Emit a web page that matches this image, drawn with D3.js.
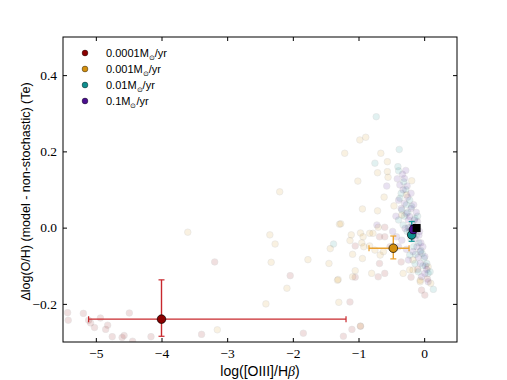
<!DOCTYPE html>
<html>
<head>
<meta charset="utf-8">
<script src="https://cdn.jsdelivr.net/npm/d3@7"></script>
<style>
  body { margin: 0; background: #fff; }
  .tick text { font-family: "Liberation Serif", serif; font-size: 13.5px; fill: #000; }
  .tick line { stroke: #000; }
  .lab { font-family: "Liberation Sans", Arial, sans-serif; fill: #000; }
</style>
</head>
<body>
<div id="app"></div>
<script>
// scatter points per star formation rate, [log([OIII]/Hb), delta log(O/H)]
var sfr0001 = [[-5.43,-0.223],[-5.42,-0.243],[-5.19,-0.225],[-5.11,-0.243],[-5.08,-0.25],[-5.02,-0.262],
  [-4.93,-0.237],[-4.82,-0.256],[-4.85,-0.267],[-4.75,-0.286],[-4.60,-0.288],[-4.57,-0.283],[-4.49,-0.224],
  [-4.44,-0.298],[-4.16,-0.286],[-3.39,-0.28],[-3.19,-0.09],[-2.04,-0.126],[-1.84,-0.277],[-1.23,-0.285],
  [-1.13,-0.195],[-1.10,-0.267],[-0.97,-0.259],[-1.05,-0.048],[-1.05,-0.13],[-0.68,-0.024],[-0.60,-0.024],
  [-0.60,0.001],[-0.68,-0.094],[-0.60,-0.12],[-0.70,-0.129],[0.01,-0.177],[-0.04,-0.164],[-0.20,-0.13],
  [-0.10,-0.11],[0.05,-0.135],[-0.52,-0.05],[-0.35,-0.09]];
var sfr001 = [[-3.15,-0.268],[-3.60,-0.012],[-2.41,-0.2],[-2.09,-0.159],[-1.30,-0.196],[-0.97,-0.258],
  [-2.20,0.094],[-2.35,-0.019],[-2.27,-0.043],[-2.33,-0.091],[-1.77,-0.084],[-1.45,-0.094],[-1.29,0.009],
  [-1.31,-0.136],[-0.98,0.23],[-0.89,0.237],[-1.21,0.195],[-1.01,0.122],[-0.94,0.049],[-1.27,0.01],
  [-1.11,-0.019],[-0.97,-0.014],[-0.93,-0.024],[-1.13,-0.034],[-0.95,-0.04],[-0.92,-0.05],[-1.09,-0.07],
  [-0.94,-0.081],[-1.05,-0.113],[-1.09,-0.129],[-1.32,-0.138],[-0.66,0.195],[-0.56,0.173],[-0.71,0.144],
  [-0.56,0.147],[-0.55,0.132],[-0.19,0.123],[-0.61,0.08],[-0.27,0.086],[-0.46,0.057],[-0.71,0.044],
  [-0.34,0.033],[-0.70,0.001],[-0.83,-0.015],[-0.78,-0.015],[-0.83,-0.048],[-0.75,-0.059],[-0.62,-0.063],
  [-0.67,-0.072],[-0.17,-0.085],[0.06,-0.103],[-0.17,-0.111],[-0.32,-0.12],[-0.80,-0.12],[-0.22,-0.111],
  [-0.06,-0.138],[0.10,-0.146],[-0.06,-0.142],[-1.43,-0.055]];
var sfr01 = [[-1.38,-0.043],[-0.73,0.291],[-0.38,0.205],[-0.75,0.169],[-0.40,0.16],[-0.39,0.149],
  [-0.37,0.077],[-0.22,0.072],[-0.19,0.055],[-0.34,0.046],[-0.39,0.02],[-0.14,0.024],[-0.32,0.007],
  [-0.22,-0.011],[-0.03,-0.068],[-0.22,-0.072],[-0.14,-0.094],[0.04,-0.094],[-0.09,-0.116],[0.09,-0.116],
  [0.14,-0.162],[-0.28,0.10],[-0.25,0.04],[-0.18,0.01],[-0.12,-0.02],[-0.08,-0.04],[-0.20,-0.03],
  [-0.30,0.03],[-0.26,-0.01],[-0.10,0.03],[-0.05,-0.06],[0.00,-0.08],[-0.16,-0.05],[-0.35,0.09],
  [-0.31,0.12],[-0.24,0.0],[-0.13,-0.07],[0.06,-0.12],[-0.02,-0.10],[-0.27,0.06]];
var sfr1 = [[-0.41,0.128],[-0.30,0.129],[-0.37,0.112],[-0.26,0.109],[-0.57,0.109],[-0.32,0.099],
  [-0.39,0.072],[-0.30,0.064],[-0.27,0.037],[-0.22,0.029],[-0.72,0.007],[-0.29,-0.002],[-0.42,-0.024],
  [-0.34,-0.033],[-0.39,-0.05],[-0.27,-0.057],[-0.17,-0.063],[-0.06,-0.063],[0.01,-0.076],[-0.09,-0.078],
  [-0.24,-0.085],[-0.06,-0.094],[0.01,-0.12],[0.06,-0.142],[-0.04,-0.129],[-0.20,0.05],[-0.15,0.02],
  [-0.10,0.0],[-0.12,0.04],[-0.18,-0.01],[-0.08,-0.02],[-0.05,-0.04],[-0.14,-0.03],[-0.22,0.0],
  [-0.25,0.08],[-0.33,0.14],[-0.28,0.15],[-0.20,0.09],[-0.16,0.06],[-0.11,-0.05],[0.02,-0.10],
  [-0.02,-0.05],[-0.24,0.02],[-0.35,0.05],[-0.10,0.015],[-0.07,-0.01],[0.04,-0.11],[-0.43,0.03],[-0.48,-0.01]];

var labels = ['0.0001', '0.001', '0.01', '0.1'];
var colors = ['#8b0000', '#d4900f', '#0f8f8f', '#4b0f8f'];
var errColors = ['#c8282d', '#eaa12e', '#1c9a9a', '#4b0f8f'];
// mean and spread: x, y, xlo, xhi, ylo, yhi
var means = [[-4.0,-0.24,-5.11,-1.19,-0.285,-0.137],
             [-0.47,-0.054,-0.84,-0.23,-0.082,-0.022],
             [-0.19,-0.019,-0.23,-0.15,-0.036,0.016],
             [-0.165,-0.005,-0.19,-0.14,-0.015,0.006]];
var refPoint = [-0.115, -0.001];

var xTicks = [-5, -4, -3, -2, -1, 0];
var yTicks = [-0.2, 0.0, 0.2, 0.4];

var W = 507, H = 380,
    pL = 63, pR = 457, pT = 37, pB = 342;

var svg = d3.select('#app').append('svg')
            .attr('width', W)
            .attr('height', H);

var x = d3.scaleLinear().domain([-5.5, 0.5]).range([pL, pR]);
var y = d3.scaleLinear().domain([-0.3, 0.5]).range([pB, pT]);

svg.append('clipPath').attr('id', 'clip')
   .append('rect').attr('x', pL).attr('y', pT)
   .attr('width', pR-pL).attr('height', pB-pT);

var plot = svg.append('g').attr('clip-path', 'url(#clip)');

[sfr0001, sfr001, sfr01, sfr1].forEach(function(pts, i){
  plot.append('g').selectAll('circle').data(pts).enter().append('circle')
      .attr('cx', function(d){ return x(d[0]); })
      .attr('cy', function(d){ return y(d[1]); })
      .attr('r', 3.3)
      .style('fill', colors[i])
      .style('stroke', '#000')
      .style('stroke-width', 0.5)
      .style('opacity', 0.12);
});

means.forEach(function(m, i){
  var g = plot.append('g');
  g.append('line').attr('x1', x(m[2])).attr('x2', x(m[3])).attr('y1', y(m[1])).attr('y2', y(m[1]))
   .style('stroke', errColors[i]).style('stroke-width', 1.4);
  g.append('line').attr('x1', x(m[0])).attr('x2', x(m[0])).attr('y1', y(m[4])).attr('y2', y(m[5]))
   .style('stroke', errColors[i]).style('stroke-width', 1.4);
  [m[2], m[3]].forEach(function(v){
    g.append('line').attr('x1', x(v)).attr('x2', x(v)).attr('y1', y(m[1])-3).attr('y2', y(m[1])+3)
     .style('stroke', errColors[i]).style('stroke-width', 1.2);
  });
  [m[4], m[5]].forEach(function(v){
    g.append('line').attr('x1', x(m[0])-3).attr('x2', x(m[0])+3).attr('y1', y(v)).attr('y2', y(v))
     .style('stroke', errColors[i]).style('stroke-width', 1.2);
  });
  g.append('circle').attr('cx', x(m[0])).attr('cy', y(m[1])).attr('r', 4.3)
   .style('fill', colors[i]).style('stroke', '#000').style('stroke-width', 0.7);
});

plot.append('rect')
    .attr('x', x(refPoint[0])-4).attr('y', y(refPoint[1])-4)
    .attr('width', 8).attr('height', 8)
    .style('fill', '#000');

// axes, ticks pointing inward on all four sides
var axB = svg.append('g').attr('transform', 'translate(0,'+pB+')')
             .call(d3.axisBottom(x).tickValues(xTicks).tickSize(-4).tickPadding(6).tickFormat(d3.format('d')));
var axT = svg.append('g').attr('transform', 'translate(0,'+pT+')')
             .call(d3.axisTop(x).tickValues(xTicks).tickSize(-4).tickFormat(''));
var axL = svg.append('g').attr('transform', 'translate('+pL+',0)')
             .call(d3.axisLeft(y).tickValues(yTicks).tickSize(-4).tickPadding(6).tickFormat(d3.format('.1f')));
var axR = svg.append('g').attr('transform', 'translate('+pR+',0)')
             .call(d3.axisRight(y).tickValues(yTicks).tickSize(-4).tickFormat(''));
[axB, axT, axL, axR].forEach(function(a){ a.select('.domain').remove(); });

svg.append('rect')
   .attr('x', pL).attr('y', pT)
   .attr('width', pR-pL).attr('height', pB-pT)
   .style('fill', 'none').style('stroke', '#000').style('stroke-width', 1);

// axis labels
var xl = svg.append('text').attr('class', 'lab')
            .attr('x', (pL+pR)/2).attr('y', 376)
            .attr('text-anchor', 'middle').style('font-size', '14px');
xl.append('tspan').text('log([OIII]/H');
xl.append('tspan').text('\u03b2').style('font-family', '"Liberation Serif", serif').style('font-style', 'italic');
xl.append('tspan').text(')');

svg.append('text').attr('class', 'lab')
   .attr('transform', 'translate(30,'+((pT+pB)/2+2)+') rotate(-90)')
   .attr('text-anchor', 'middle').style('font-size', '12.5px')
   .text('\u0394log(O/H) (model - non-stochastic) (Te)');

// legend
var legend = svg.append('g');
labels.forEach(function(l, i){
  var ly = 53 + i*16;
  legend.append('circle').attr('cx', 85).attr('cy', ly).attr('r', 2.9)
        .style('fill', colors[i]).style('stroke', '#000').style('stroke-width', 0.4);
  var t = legend.append('text').attr('class', 'lab')
                .attr('x', 106).attr('y', ly+4).style('font-size', '11px');
  t.append('tspan').text(l + 'M');
  t.append('tspan').text('\u2299').attr('dy', 3).style('font-size', '7px');
  t.append('tspan').text('/yr').attr('dy', -3);
});
</script>
</body>
</html>
